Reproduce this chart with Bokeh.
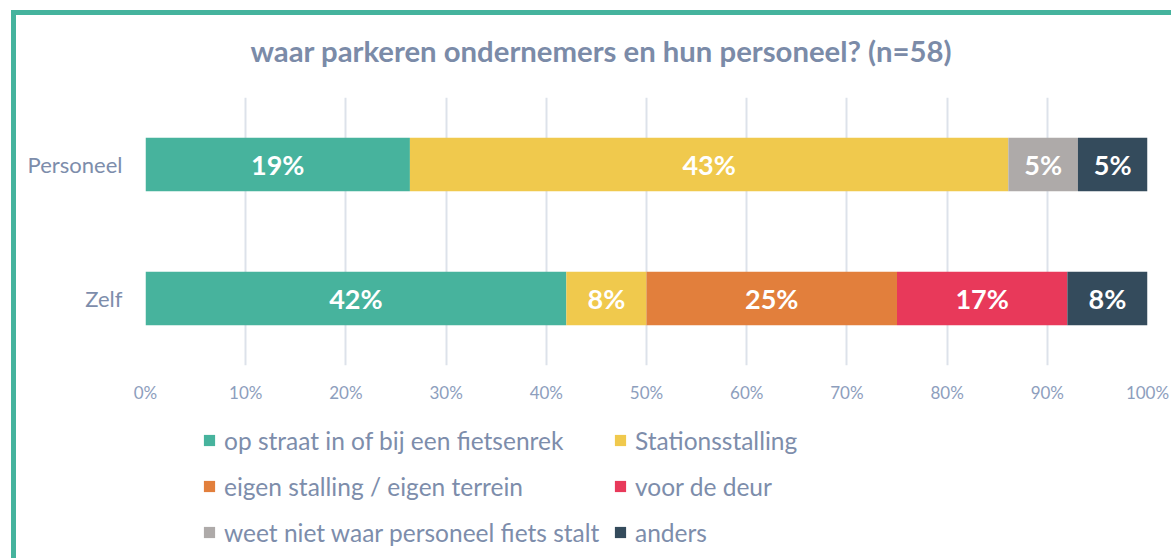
from bokeh.plotting import figure
from bokeh.layouts import column
from bokeh.models import (ColumnDataSource, Range1d, FactorRange, FixedTicker,
                          NumeralTickFormatter, Legend, LegendItem, Title)
from bokeh.core.properties import value
from bokeh.embed import file_html
from bokeh.resources import INLINE

# ---- data ----
title = "waar parkeren ondernemers en hun personeel? (n=58)"
categories = ["Zelf", "Personeel"]
series = ["op straat in of bij een fietsenrek", "Stationsstalling",
          "eigen stalling / eigen terrein", "voor de deur",
          "weet niet waar personeel fiets stalt", "anders"]
colors = ["#47b39d", "#f0c94d", "#e27f3c", "#e8395a", "#aeaaa9", "#344b5c"]
zelf = [42, 8, 25, 17, 0, 8]
personeel = [19, 43, 0, 0, 5, 5]
x_ticks = [0.0, 0.1, 0.2, 0.3, 0.4, 0.5, 0.6, 0.7, 0.8, 0.9, 1.0]

rows = {"Zelf": zelf, "Personeel": personeel}
keys = [f"s{i}" for i in range(len(series))]

data = {"cat": categories}
for i, k in enumerate(keys):
    data[k] = [rows[c][i] / sum(rows[c]) for c in categories]
src = ColumnDataSource(data)

lab = {"x": [], "y": [], "text": []}
for c in categories:
    tot = sum(rows[c])
    cum = 0.0
    for v in rows[c]:
        if v > 0:
            lab["x"].append((cum + v / 2) / tot)
            lab["y"].append(c)
            lab["text"].append(f"{v}%")
        cum += v
lab_src = ColumnDataSource(lab)

FONT = "Lato"
TITLE_C = "#7b8ba8"
AXIS_C = "#7d8dab"
TICK_C = "#8d9ebd"
BORDER = "#45b39d"

# ---------------- main chart ----------------
p = figure(width=1171, height=410, x_range=Range1d(0, 1),
           y_range=FactorRange(*categories),
           output_backend="svg", toolbar_location=None,
           min_border_left=145, min_border_right=24,
           min_border_top=95, min_border_bottom=45)
p.outline_line_color = None
p.background_fill_color = "white"
p.border_fill_alpha = 0
p.styles = {
    "background-color": "white",
    "box-shadow": f"inset 11px 10px 0 0 white, inset 16px 15px 0 0 {BORDER}",
}

rs = p.hbar_stack(keys, y="cat", height=0.4, color=colors, source=src,
                  line_color=None)

p.text(x="x", y="y", text="text", source=lab_src, text_align="center",
       text_baseline="middle", text_color="white", text_font=value(FONT),
       text_font_style="bold", text_font_size="27px")

p.xaxis.ticker = FixedTicker(ticks=x_ticks)
p.xaxis.formatter = NumeralTickFormatter(format="0%")
for ax in (p.xaxis, p.yaxis):
    ax.axis_line_color = None
    ax.major_tick_line_color = None
    ax.minor_tick_line_color = None
    ax.major_tick_out = 0
    ax.major_label_text_font = FONT
p.xaxis.major_label_text_font_size = "17px"
p.xaxis.major_label_text_color = TICK_C
p.xaxis.major_label_standoff = 16
p.yaxis.major_label_text_font_size = "22px"
p.yaxis.major_label_text_color = AXIS_C
p.yaxis.major_label_standoff = 23

p.xgrid.grid_line_color = "#dde2ea"
p.xgrid.grid_line_width = 2
p.ygrid.grid_line_color = None

p.add_layout(Title(text=title, align="left", offset=105, standoff=60,
                   text_font=FONT, text_font_style="bold",
                   text_font_size="29.3px", text_color=TITLE_C), "above")

# ---------------- legend strip ----------------
q = figure(width=1171, height=148, x_range=Range1d(0, 1),
           y_range=FactorRange(*categories),
           output_backend="svg", toolbar_location=None,
           x_axis_location=None, y_axis_location=None, min_border=0)
q.outline_line_color = None
q.background_fill_alpha = 0
q.border_fill_alpha = 0
q.grid.visible = False
q.styles = {
    "background-color": "white",
    "box-shadow": f"inset 11px 0 0 0 white, inset 16px 0 0 0 {BORDER}",
}

legend_renderers = q.hbar_stack(keys, y="cat", height=0.4, color=colors,
                                source=src, line_color=None)
for r in legend_renderers:
    r.visible = False


def make_legend(idx, xloc):
    lg = Legend(items=[LegendItem(label=series[i], renderers=[legend_renderers[i]])
                       for i in idx],
                location=(xloc, 3), orientation="vertical",
                glyph_width=14, glyph_height=14, label_height=46, spacing=0,
                label_standoff=8, padding=0, margin=0,
                border_line_color=None, background_fill_alpha=0,
                inactive_fill_alpha=0,
                label_text_font=FONT, label_text_font_size="24.5px",
                label_text_color=AXIS_C)
    q.add_layout(lg, "center")


make_legend([0, 2, 4], 57)
make_legend([1, 3, 5], 468)

layout = column(p, q, spacing=0)
open("out.html", "w").write(file_html(layout, INLINE))
